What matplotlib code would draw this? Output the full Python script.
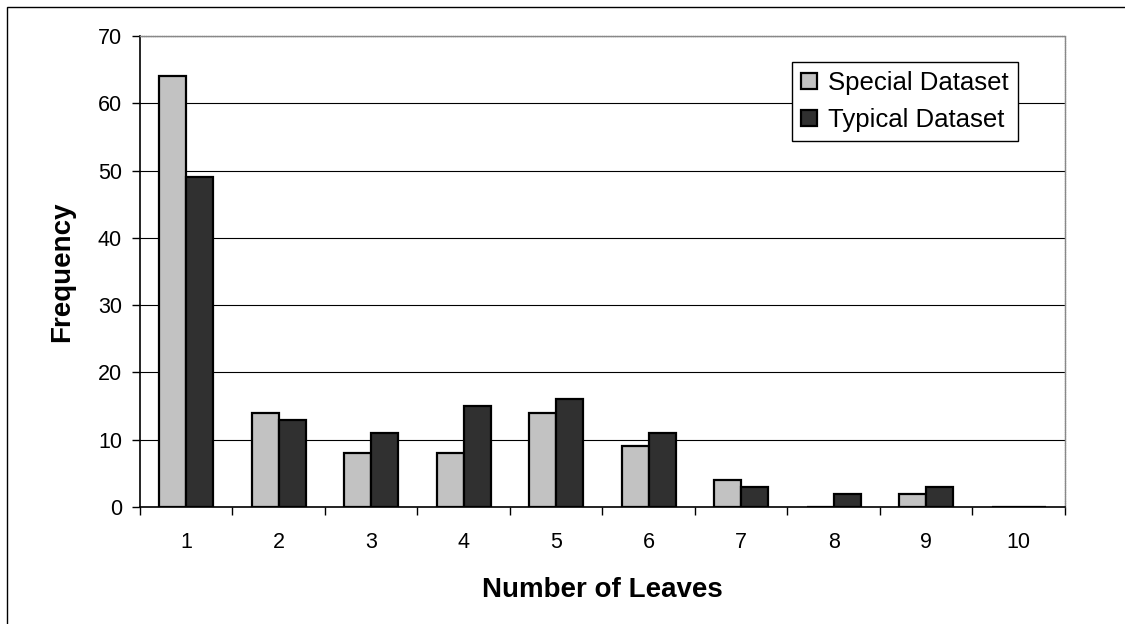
import numpy as np
import matplotlib.pyplot as plt
from matplotlib.patches import Rectangle

plt.rcParams['font.family'] = ['Liberation Sans', 'DejaVu Sans']

leaves = [1, 2, 3, 4, 5, 6, 7, 8, 9, 10]
special = [64, 14, 8, 8, 14, 9, 4, 0, 2, 0]
typical = [49, 13, 11, 15, 16, 11, 3, 2, 3, 0]

fig = plt.figure(figsize=(11.25, 6.24), dpi=100)
ax = fig.add_axes([0.1244, 0.1875, 0.8222, 0.7548])

# outer frame (only its left and top edges fall inside the image)
fig.patches.append(Rectangle((0.0062, -0.05), 1.1, 1.0388, transform=fig.transFigure,
                             fill=False, edgecolor="black", linewidth=1.0))

x = np.arange(len(leaves))
w = 0.29
ax.bar(x - w / 2, special, width=w, color="#c2c2c2", edgecolor="black",
       linewidth=1.6, label="Special Dataset", zorder=3)
ax.bar(x + w / 2, typical, width=w, color="#303030", edgecolor="black",
       linewidth=1.6, label="Typical Dataset", zorder=3)

ax.set_xlim(-0.5, len(leaves) - 0.5)
ax.set_ylim(0, 70)
ax.set_yticks(range(0, 71, 10))
ax.set_xticks(x)
ax.set_xticklabels([str(v) for v in leaves])
ax.set_xticks(np.arange(-0.5, len(leaves) + 0.5, 1), minor=True)

ax.yaxis.grid(True, color="black", linewidth=0.8, zorder=0)
ax.set_axisbelow(True)

for side in ["top", "right"]:
    ax.spines[side].set_color("#888888")
    ax.spines[side].set_linewidth(1.0)
    ax.spines[side].set_linestyle((0, (1, 0.6)))
ax.spines["left"].set_linewidth(1.2)
ax.spines["bottom"].set_linewidth(1.2)

ax.tick_params(axis="x", which="major", length=0, labelsize=15.5, pad=18)
ax.tick_params(axis="x", which="minor", length=6, width=1, direction="out")
ax.tick_params(axis="y", length=6, width=1, labelsize=15.5, pad=7)

ax.set_ylabel("Frequency", fontsize=20, fontweight="bold", labelpad=16)
ax.set_xlabel("Number of Leaves", fontsize=20, fontweight="bold", labelpad=17)

leg = ax.legend(loc="upper right", bbox_to_anchor=(0.949, 0.945), fontsize=18.5,
                frameon=True, fancybox=False, edgecolor="black", framealpha=1,
                handlelength=0.6, handleheight=0.6, handletextpad=0.45,
                borderpad=0.35, labelspacing=0.5, borderaxespad=0)
leg.get_frame().set_linewidth(1.0)

fig.savefig("out.png", dpi=100)
